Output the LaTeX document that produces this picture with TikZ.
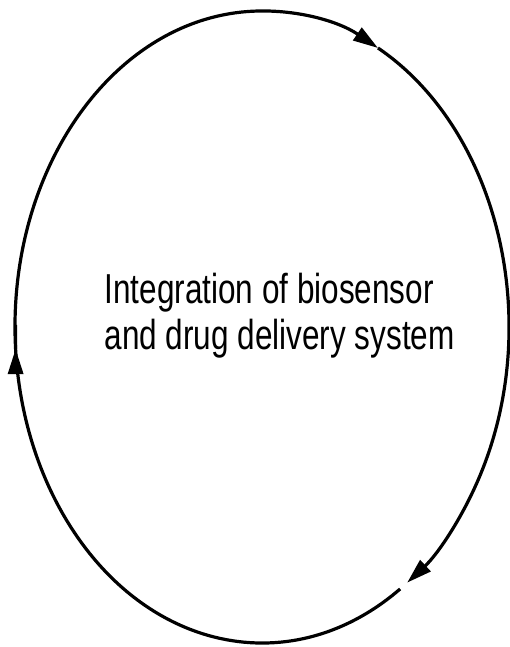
\documentclass[tikz,border=0pt]{standalone}
\usepackage{fontspec}
\setmainfont{Liberation Sans}
\usetikzlibrary{arrows.meta}

\begin{document}
\begin{tikzpicture}[x=1pt, y=1pt, line width=3.2pt,
  cycle arc/.style={-{Triangle[length=25pt, width=15pt]}}]
  \useasboundingbox (0,0) rectangle (510,647);
  \coordinate (O) at (262,320);
  % three arcs, clockwise
  \draw [cycle arc] ([shift={(184:247 and 316)}]O) coordinate (a)
  arc (184:62:247 and 316) coordinate (b);
  \draw [cycle arc] (b) arc (62:-54:247 and 316) coordinate (c);
  \draw [cycle arc] ([shift={(-56:247 and 316)}]O)
  arc (-56:-176:247 and 316) -- (a);
  \node [font=\fontsize{31.5}{35.3}\selectfont, align=left, anchor=base west,
  yscale=1.33, inner sep=0pt] (title) at (103,297)
  {Integration of biosensor\\and drug delivery system};
\end{tikzpicture}
\end{document}
